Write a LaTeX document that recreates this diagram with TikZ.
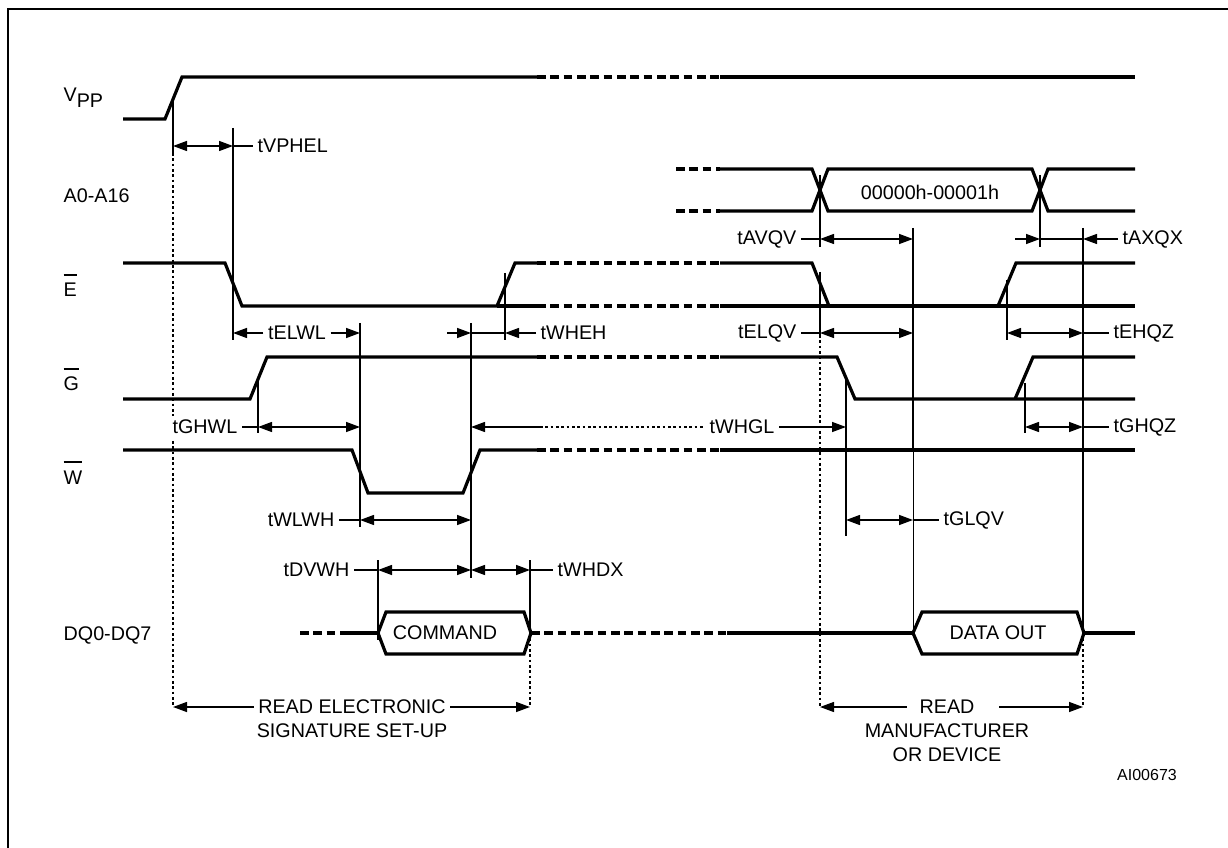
\documentclass[tikz,border=0pt]{standalone}
\usepackage{fontspec}
\setmainfont{Liberation Sans}
\usepackage{tikz}
\usetikzlibrary{arrows.meta,%
                positioning}

\newlength\barw
\newcommand\barsig[1]{\settowidth\barw{#1}\rlap{\rule[15.5pt]{\barw}{1.6pt}}#1}

\begin{document}
\begin{tikzpicture}[x=0.75pt,y=-0.75pt,line width=1pt,
  >={Triangle[length=10.5pt,width=7.5pt]},
  sig/.style={line width=2.4pt},
  brk/.style={line width=2.4pt,dash pattern=on 6.5pt off 3.5pt},
  tline/.style={line width=1.5pt},
  guide/.style={line width=1.8pt,dash pattern=on 2pt off 2pt},
  thindot/.style={line width=0.8pt,dash pattern=on 2pt off 2pt},
  lbl/.style={font=\fontsize{14.8}{18}\selectfont,inner sep=3pt}]
\useasboundingbox (0,0) rectangle (1228,848);
\draw[line width=1.7pt] (1228,9) -- (8,9) -- (8,848);
%\draw[help lines] (0,0) grid[step=50] (1228,848);

% time columns and arrow rows
\coordinate (tVP) at (173,0);
\coordinate (tEL) at (233,0);
\coordinate (tGH) at (258,0);
\coordinate (tWL) at (360,0);
\coordinate (tDV) at (378,0);
\coordinate (tWH) at (471,0);
\coordinate (tEH) at (505,0);
\coordinate (tDX) at (530,0);
\coordinate (tAV) at (820,0);
\coordinate (tGL) at (846,0);
\coordinate (tQV) at (913,0);
\coordinate (tEZ) at (1007,0);
\coordinate (tGZ) at (1025,0);
\coordinate (tAX) at (1040,0);
\coordinate (tQZ) at (1083,0);
\coordinate (rVP) at (0,146);
\coordinate (rA) at (0,239);
\coordinate (rE) at (0,333);
\coordinate (rG) at (0,427);
\coordinate (rW) at (0,520);
\coordinate (rD) at (0,570);
\coordinate (rR) at (0,707);

% signal names
\node[lbl,anchor=base west] (nVpp) at (59,102) {V\raisebox{-4.5pt}{PP}};
\node[lbl,anchor=base west] (nA) at (59,203) {A0-A16};
\node[lbl,anchor=base west] (nE) at (59,297) {\barsig{E}};
\node[lbl,anchor=base west] (nG) at (59,391) {\barsig{G}};
\node[lbl,anchor=base west] (nW) at (59,484) {\barsig{W}};
\node[lbl,anchor=base west] (nDQ) at (59,640) {DQ0-DQ7};

% Vpp
\draw[sig] (123,119) -- (165,119) -- (182,77) -- (537,77);
\draw[brk] (537,77) -- (720,77);
\draw[sig] (720,77) -- (1135,77);
% A0-A16
\draw[brk] (676,169) -- (720,169) (676,211) -- (720,211);
\draw[sig] (720,169) -- (812,169) -- (828,211) -- (1032,211) -- (1048,169) -- (1135,169);
\draw[sig] (720,211) -- (812,211) -- (828,169) -- (1032,169) -- (1048,211) -- (1135,211);
\node[lbl] (adr) at (930,192) {00000h-00001h};
% E
\draw[sig] (123,263) -- (225,263) -- (242,306) -- (497,306) -- (515,263) -- (537,263);
\draw[sig] (497,306) -- (537,306);
\draw[brk] (537,263) -- (720,263) (537,306) -- (720,306);
\draw[sig] (720,263) -- (812,263) -- (829,306);
\draw[sig] (720,306) -- (1135,306);
\draw[sig] (998,306) -- (1016,263) -- (1135,263);
% G
\draw[sig] (123,399) -- (250,399) -- (267,357) -- (537,357);
\draw[brk] (537,357) -- (720,357);
\draw[sig] (720,357) -- (837,357) -- (855,399) -- (1135,399);
\draw[sig] (1015,399) -- (1033,357) -- (1135,357);
% W
\draw[sig] (123,450) -- (352,450) -- (368,493) -- (463,493) -- (480,450) -- (537,450);
\draw[brk] (537,450) -- (720,450);
\draw[sig] (720,450) -- (1135,450);
% DQ0-DQ7
\draw[brk] (300,633) -- (348,633);
\draw[sig] (348,633) -- (378,633);
\draw[sig] (378,633) -- (386,612) -- (524,612) -- (531,633) -- (524,654) -- (386,654) -- cycle;
\node[lbl] (cmd) at (445,633) {COMMAND};
\draw[brk] (531,633) -- (727,633);
\draw[sig] (727,633) -- (913,633);
\draw[sig] (913,633) -- (922,612) -- (1077,612) -- (1084,633) -- (1077,654) -- (922,654) -- cycle;
\draw[sig] (1084,633) -- (1135,633);
\node[lbl] (dout) at (998,633) {DATA OUT};

% timing marks
\draw[tline] (173,97) -- (173,153);
\draw[guide] (173,153) -- (173,707);
\draw[tline] (233,128) -- (233,340);
\draw[tline] (258,377) -- (258,433);
\draw[tline] (360,323) -- (360,527);
\draw[tline] (378,560) -- (378,640);
\draw[tline] (471,323) -- (471,578);
\draw[tline] (505,273) -- (505,340);
\draw[tline] (530,560) -- (530,633);
\draw[guide] (530,633) -- (530,707);
\draw[tline] (820,175) -- (820,247) (820,272) -- (820,335);
\draw[guide] (820,335) -- (820,707);
\draw[tline] (846,377) -- (846,536);
\draw[tline] (913,228) -- (913,450);
\draw[line width=0.6pt] (913,450) -- (913,633);
\draw[tline] (1007,280) -- (1007,340);
\draw[tline] (1025,383) -- (1025,433);
\draw[tline] (1040,175) -- (1040,247);
\draw[tline] (1083,228) -- (1083,633);
\draw[guide] (1083,633) -- (1083,707);

% timing labels
\node[lbl,anchor=west] (lVPHEL) at (253,146) {tVPHEL};
\node[lbl,anchor=east] (lAVQV) at (801,239) {tAVQV};
\node[lbl,anchor=west] (lAXQX) at (1118,239) {tAXQX};
\node[lbl] (lELWL) at (297,333) {tELWL};
\node[lbl,anchor=west] (lWHEH) at (536,333) {tWHEH};
\node[lbl,anchor=east] (lELQV) at (801,333) {tELQV};
\node[lbl,anchor=west] (lEHQZ) at (1109,333) {tEHQZ};
\node[lbl,anchor=east,fill=white] (lGHWL) at (242,427) {tGHWL};
\node[lbl] (lWHGL) at (742,427) {tWHGL};
\node[lbl,anchor=west] (lGHQZ) at (1109,427) {tGHQZ};
\node[lbl,anchor=east] (lWLWH) at (339,520) {tWLWH};
\node[lbl,anchor=west] (lGLQV) at (939,520) {tGLQV};
\node[lbl,anchor=east] (lDVWH) at (354,570) {tDVWH};
\node[lbl,anchor=west] (lWHDX) at (553,570) {tWHDX};
\node[lbl] (lRdEl) at (352,707) {READ ELECTRONIC};
\node[lbl,below=0.5pt of lRdEl] (lSetUp) {SIGNATURE SET-UP};
\node[lbl,inner xsep=9pt] (lRead) at (947,707) {READ};
\node[lbl,below=0.5pt of lRead,align=center] (lMfr) {MANUFACTURER\\OR DEVICE};
\node[font=\fontsize{12}{14}\selectfont] (code) at (1147,775) {AI00673};

% timing arrows
\draw[<->] (tVP |- rVP) -- (tEL |- rVP);
\draw (tEL |- rVP) -- (lVPHEL.west);
\draw (lAVQV.east) -- (tAV |- rA);
\draw[<->] (tAV |- rA) -- (tQV |- rA);
\draw[<-] (tAX |- rA) -- ++(-25,0);
\draw (tAX |- rA) -- (tQZ |- rA);
\draw[->] (lAXQX.west) -- (tQZ |- rA);
\draw[->] (lELWL.west) -- (tEL |- rE);
\draw[->] (lELWL.east) -- (tWL |- rE);
\draw[<-] (tWH |- rE) -- ++(-24,0);
\draw (tWH |- rE) -- (tEH |- rE);
\draw[->] (lWHEH.west) -- (tEH |- rE);
\draw (lELQV.east) -- (tAV |- rE);
\draw[<->] (tAV |- rE) -- (tQV |- rE);
\draw[<->] (tEZ |- rE) -- (tQZ |- rE);
\draw (tQZ |- rE) -- (lEHQZ.west);
\draw (lGHWL.east) -- (tGH |- rG);
\draw[<->] (tGH |- rG) -- (tWL |- rG);
\coordinate (gBrk) at (540,427);
\draw[->] (gBrk) -- (tWH |- rG);
\draw[thindot] (gBrk) -- (lWHGL.west);
\draw[->] (lWHGL.east) -- (tGL |- rG);
\draw[<->] (tGZ |- rG) -- (tQZ |- rG);
\draw (tQZ |- rG) -- (lGHQZ.west);
\draw (lWLWH.east) -- (tWL |- rW);
\draw[<->] (tWL |- rW) -- (tWH |- rW);
\draw[<->] (tGL |- rW) -- (tQV |- rW);
\draw (tQV |- rW) -- (lGLQV.west);
\draw (lDVWH.east) -- (tDV |- rD);
\draw[<->] (tDV |- rD) -- (tWH |- rD);
\draw[<->] (tWH |- rD) -- (tDX |- rD);
\draw (tDX |- rD) -- (lWHDX.west);
\draw[->] (lRdEl.west) -- (tVP |- rR);
\draw[->] (lRdEl.east) -- (tDX |- rR);
\draw[->] (lRead.west) -- (tAV |- rR);
\draw[->] ([xshift=9pt]lRead.east) -- (tQZ |- rR);
\end{tikzpicture}
\end{document}
